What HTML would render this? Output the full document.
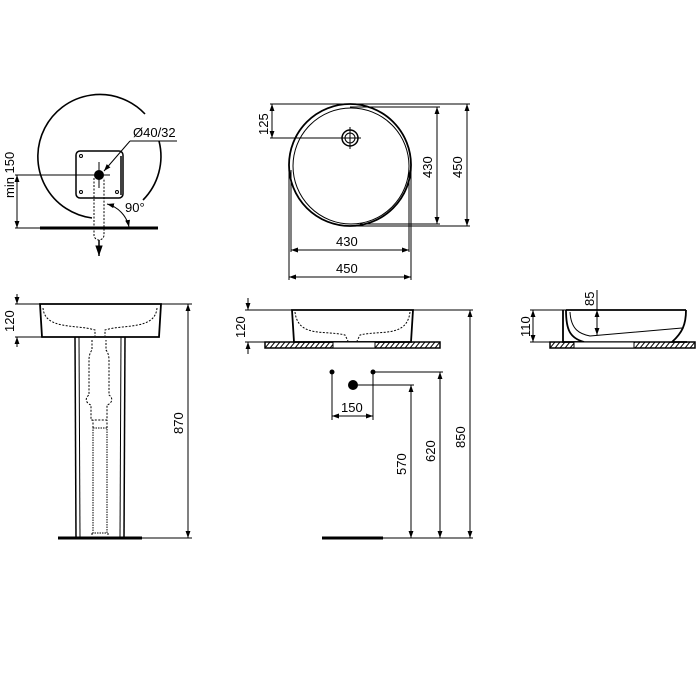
<!DOCTYPE html>
<html><head><style>body{margin:0;background:#fff}svg{display:block}text{font-family:"Liberation Sans",sans-serif;font-size:13px;fill:#000}</style></head>
<body>
<svg width="700" height="700" viewBox="0 0 700 700" xmlns="http://www.w3.org/2000/svg">
<defs>
<marker id="a" viewBox="0 0 10 10" refX="10" refY="5" markerWidth="7" markerHeight="7" orient="auto-start-reverse"><path d="M0,1.5L10,5L0,8.5z" fill="#000"/></marker>
<pattern id="h" width="5" height="6" patternUnits="userSpaceOnUse"><path d="M0,6L5,0" stroke="#000" stroke-width="1"/></pattern>
</defs>
<g fill="none" stroke="#000" stroke-width="1">
<!-- top-left view -->
<path d="M145,114 A62,62 0 1 0 92,218" stroke-width="1.6"/>
<path d="M159,141 A62,62 0 0 1 143,200" stroke-width="1.6"/>
<rect x="76" y="151" width="47" height="47" rx="4" stroke-width="1.5"/>
<line x1="121" y1="156" x2="121" y2="195" stroke-width="1.5"/>
<circle cx="81" cy="156" r="1.5"/><circle cx="81" cy="192" r="1.5"/><circle cx="117" cy="192" r="1.5"/>
<line x1="15" y1="175" x2="110" y2="175"/>
<line x1="99" y1="162" x2="99" y2="188"/>
<line x1="17" y1="175" x2="17" y2="228" marker-start="url(#a)" marker-end="url(#a)"/>
<line x1="15" y1="228" x2="40" y2="228"/>
<line x1="40" y1="228" x2="158" y2="228" stroke-width="3"/>
<path d="M94,178V235a5,5 0 0 0 10,0V178" stroke-dasharray="2,1.5"/>
<line x1="99" y1="240" x2="99" y2="256" stroke-width="1.5" marker-end="url(#a)"/>
<line x1="177" y1="141" x2="130" y2="141"/>
<line x1="130" y1="141" x2="104" y2="171" marker-end="url(#a)"/>
<path d="M107,204 A30,30 0 0 1 129,227" marker-start="url(#a)" marker-end="url(#a)"/>
<!-- top view -->
<circle cx="350" cy="165" r="61" stroke-width="1.8"/>
<circle cx="351" cy="166" r="58"/>
<circle cx="350" cy="138" r="8" stroke-width="1.5"/><circle cx="350" cy="138" r="5"/>
<line x1="339" y1="138" x2="361" y2="138"/><line x1="350" y1="127" x2="350" y2="149"/>
<line x1="270" y1="104" x2="470" y2="104"/><line x1="350" y1="107" x2="440" y2="107"/>
<line x1="270" y1="138" x2="340" y2="138"/>
<line x1="272" y1="104" x2="272" y2="138" marker-start="url(#a)" marker-end="url(#a)"/>
<line x1="360" y1="224" x2="440" y2="224"/><line x1="350" y1="226" x2="470" y2="226"/>
<line x1="437" y1="107" x2="437" y2="224" marker-start="url(#a)" marker-end="url(#a)"/>
<line x1="467" y1="104" x2="467" y2="226" marker-start="url(#a)" marker-end="url(#a)"/>
<line x1="291" y1="170" x2="291" y2="252"/><line x1="409" y1="170" x2="409" y2="252"/>
<line x1="289" y1="170" x2="289" y2="280"/><line x1="411" y1="170" x2="411" y2="280"/>
<line x1="291" y1="250" x2="409" y2="250" marker-start="url(#a)" marker-end="url(#a)"/>
<line x1="289" y1="277" x2="411" y2="277" marker-start="url(#a)" marker-end="url(#a)"/>
<!-- front view -->
<path d="M40,304H161L159,337H42Z" stroke-width="1.8"/>
<path d="M43,308C45,330 75,324 95,330V336M157,308C155,330 125,324 105,330V336" stroke-dasharray="2,1.5"/>
<line x1="15" y1="304" x2="40" y2="304"/><line x1="15" y1="337" x2="42" y2="337"/>
<line x1="17" y1="294" x2="17" y2="304" marker-end="url(#a)"/><line x1="17" y1="347" x2="17" y2="337" marker-end="url(#a)"/>
<line x1="161" y1="304" x2="192" y2="304"/><line x1="142" y1="538" x2="192" y2="538"/>
<line x1="188" y1="304" x2="188" y2="538" marker-start="url(#a)" marker-end="url(#a)"/>
<line x1="75" y1="337" x2="76" y2="538" stroke-width="1.5"/><line x1="79" y1="337" x2="80" y2="538"/>
<line x1="125" y1="337" x2="124" y2="538" stroke-width="1.5"/><line x1="121" y1="337" x2="120" y2="538"/>
<line x1="58" y1="538" x2="142" y2="538" stroke-width="3"/>
<path d="M92,340V350a7,12 0 0 0 -3,10V395a8,6 0 0 0 2,10V420h16V405a8,6 0 0 0 2,-10V360a7,12 0 0 0 -3,-10V340" stroke-dasharray="2,1.5"/>
<rect x="93" y="428" width="14" height="105" stroke-dasharray="1.5,1"/>
<path d="M93,428V420M107,428V420M92,533v5M108,533v5" stroke-dasharray="2,1.5"/>
<!-- middle side view -->
<path d="M292,310H413L411,342H294Z" stroke-width="1.8"/>
<path d="M295,312C298,338 325,330 345,335L348,341M410,312C407,338 380,330 360,335L357,341" stroke-dasharray="2,1.5"/>
<rect x="265" y="342" width="175" height="6" fill="url(#h)" stroke-width="1.5"/>
<rect x="333" y="342" width="42" height="6" fill="#fff"/>
<line x1="245" y1="310" x2="292" y2="310"/><line x1="245" y1="342" x2="265" y2="342"/>
<line x1="248" y1="298" x2="248" y2="310" marker-end="url(#a)"/><line x1="248" y1="354" x2="248" y2="342" marker-end="url(#a)"/>
<line x1="413" y1="310" x2="473" y2="310"/>
<line x1="332" y1="372" x2="332" y2="420"/><line x1="373" y1="372" x2="373" y2="420"/>
<line x1="332" y1="416" x2="373" y2="416" marker-start="url(#a)" marker-end="url(#a)"/>
<line x1="373" y1="372" x2="443" y2="372"/><line x1="353" y1="385" x2="414" y2="385"/>
<line x1="411" y1="385" x2="411" y2="538" marker-start="url(#a)" marker-end="url(#a)"/>
<line x1="440" y1="372" x2="440" y2="538" marker-start="url(#a)" marker-end="url(#a)"/>
<line x1="470" y1="310" x2="470" y2="538" marker-start="url(#a)" marker-end="url(#a)"/>
<line x1="383" y1="538" x2="473" y2="538"/>
<line x1="322" y1="538" x2="383" y2="538" stroke-width="3"/>
<!-- right view -->
<path d="M566,310H686M563,310V342H584C570,338 566,330 566,310M686,310C686,325 682,333 672,342H687" stroke-width="1.8"/>
<path d="M570,312C571,330 580,334 590,336L682,328" stroke-width="1"/>
<rect x="550" y="342" width="145" height="6" fill="url(#h)" stroke-width="1.5"/>
<rect x="574" y="342" width="60" height="6" fill="#fff"/>
<line x1="530" y1="310" x2="566" y2="310"/><line x1="530" y1="342" x2="563" y2="342"/>
<line x1="533" y1="310" x2="533" y2="342" marker-start="url(#a)" marker-end="url(#a)"/>
<line x1="597" y1="290" x2="597" y2="310"/>
<line x1="597" y1="310" x2="597" y2="335" marker-start="url(#a)" marker-end="url(#a)"/>
</g>
<circle cx="99" cy="175" r="5"/>
<circle cx="332" cy="372" r="2.5"/><circle cx="373" cy="372" r="2.5"/><circle cx="353" cy="385" r="5"/>
<text x="133" y="137">Ø40/32</text>
<text x="125" y="212">90°</text>
<text transform="translate(14,198) rotate(-90)">min 150</text>
<text transform="translate(268,135) rotate(-90)">125</text>
<text transform="translate(432,178) rotate(-90)">430</text>
<text transform="translate(462,178) rotate(-90)">450</text>
<text x="336" y="246">430</text>
<text x="336" y="273">450</text>
<text transform="translate(14,332) rotate(-90)">120</text>
<text transform="translate(183,434) rotate(-90)">870</text>
<text transform="translate(245,338) rotate(-90)">120</text>
<text x="341" y="412">150</text>
<text transform="translate(406,475) rotate(-90)">570</text>
<text transform="translate(435,462) rotate(-90)">620</text>
<text transform="translate(465,448) rotate(-90)">850</text>
<text transform="translate(530,337) rotate(-90)">110</text>
<text transform="translate(594,306) rotate(-90)">85</text>
</svg>
</body></html>
